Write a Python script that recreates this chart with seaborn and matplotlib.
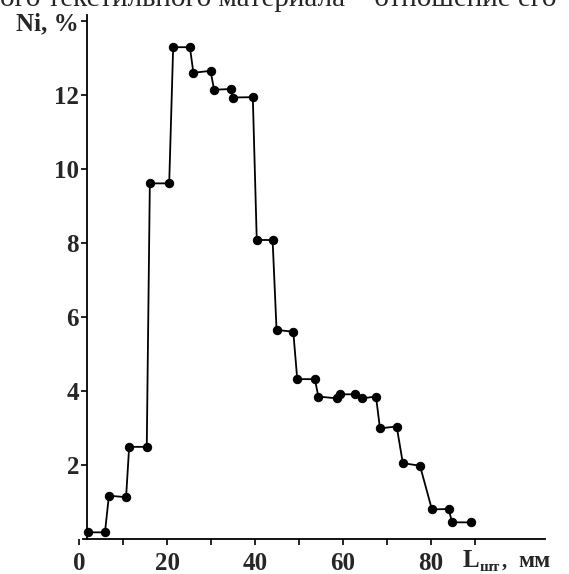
import seaborn as sns
import matplotlib.pyplot as plt

# Ni content along the sample length
length_mm = [2.1, 5.9, 6.8, 10.7, 11.4, 15.4, 16.1, 20.5, 21.4, 25.2, 26.0, 29.9,
             30.7, 34.5, 34.9, 39.5, 40.4, 44.0, 44.9, 48.7, 49.6, 53.6, 54.4, 58.6,
             59.3, 62.7, 64.3, 67.5, 68.4, 72.2, 73.6, 77.5, 80.2, 84.0, 84.8, 89.0]
ni_pct = [0.18, 0.18, 1.17, 1.13, 2.49, 2.49, 9.61, 9.61, 13.29, 13.29, 12.6, 12.65,
          12.14, 12.16, 11.93, 11.94, 8.08, 8.08, 5.65, 5.6, 4.32, 4.32, 3.85, 3.80,
          3.91, 3.91, 3.80, 3.85, 2.99, 3.04, 2.05, 1.98, 0.80, 0.81, 0.45, 0.45]

x_major = [0, 20, 40, 60, 80]
x_minor = [10, 30, 50, 70, 90]
y_ticks = [2, 4, 6, 8, 10, 12, 14]
y_labels = ["2", "4", "6", "8", "10", "12", "Ni, %"]

sns.set_style("white")
plt.rcParams["font.family"] = ["Liberation Serif", "DejaVu Serif"]

fig = plt.figure(figsize=(5.69, 5.74), dpi=100)
ax = fig.add_axes([79 / 569, 35 / 574, 466.4 / 569, 524 / 574])

sns.lineplot(x=length_mm, y=ni_pct, ax=ax, color="black", linewidth=1.3,
             marker="o", markersize=6, markeredgecolor="black",
             markerfacecolor="black", clip_on=False)

ax.set_xlim(0, 106)
ax.set_ylim(0, 14.16)

for s in ["top", "right"]:
    ax.spines[s].set_visible(False)
ax.spines["left"].set_position(("data", 1.9))
ax.spines["bottom"].set_bounds(1.0, 106)
for s in ["left", "bottom"]:
    ax.spines[s].set_color("black")
    ax.spines[s].set_linewidth(1.3)

ax.set_xticks(x_major)
ax.set_xticklabels([str(v) for v in x_major])
ax.set_xticks(x_minor, minor=True)
ax.xaxis.get_major_ticks()[0].tick1line.set_visible(False)
ax.set_yticks(y_ticks)
ax.set_yticklabels(y_labels)

ax.tick_params(axis="both", which="both", direction="out", length=4, width=1.2,
               color="black", bottom=True, left=True)
ax.tick_params(axis="x", which="major", pad=5, labelsize=18)
ax.tick_params(axis="y", which="major", pad=2, labelsize=18)
for lab in ax.get_xticklabels() + ax.get_yticklabels():
    lab.set_fontweight("bold")

ax.set_xlabel("")
ax.set_ylabel("")

# axis caption at the end of the x axis
fig.text(463 / 569, 1 - 567 / 574, "L", fontsize=18, fontweight="bold")
fig.text(480 / 569, 1 - 571 / 574, "шт", fontsize=11, fontweight="bold")
fig.text(502 / 569, 1 - 567 / 574, ",", fontsize=15, fontweight="bold")
fig.text(518 / 569, 1 - 567 / 574, "мм", fontsize=17, fontweight="bold")

# cut-off line of body text above the chart
fig.text(0.0, 1 - 6 / 574, "ого текстильного материала – отношение его",
         fontsize=21, ha="left", va="baseline")

fig.savefig("out.png", dpi=100)
